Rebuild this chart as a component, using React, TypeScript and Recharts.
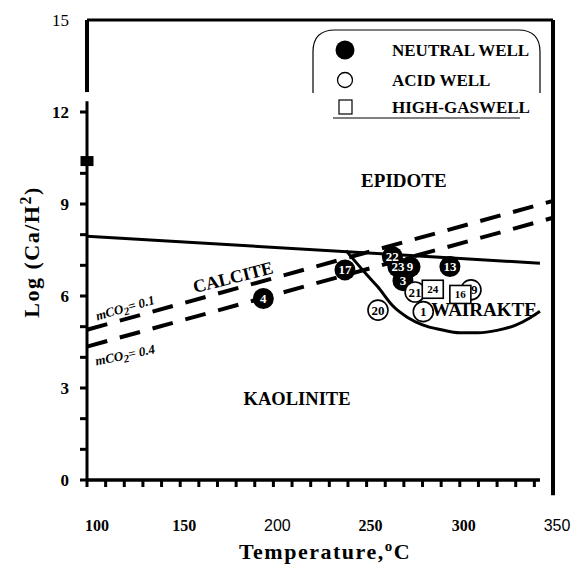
import React from 'react';
import { ComposedChart, XAxis, YAxis, Line, Scatter, ReferenceLine, ReferenceDot } from 'recharts';

// ---------- data ----------
const xTickLabels = [100, 150, 200, 250, 300, 350];
const xTickMarks = [100, 110, 120, 130, 140, 150, 160, 170, 180, 190, 200, 210, 220, 230, 240, 250, 260, 270, 280, 290, 300, 310, 320, 330, 340];
const yTickLabels = [0, 3, 6, 9, 12, 15];
const yTickMarks = [0, 1, 2, 3, 4, 5, 6, 7, 8, 9, 10, 12];

const calciteEpidote = [
  { T: 100, V: 7.95 },
  { T: 343, V: 7.07 },
];
const co2Line01 = [
  { T: 100, V: 4.9 },
  { T: 350, V: 9.1 },
];
const co2Line04 = [
  { T: 100, V: 4.35 },
  { T: 350, V: 8.55 },
];
const wairakiteCurve = [
  { T: 239, V: 7.48 },
  { T: 244, V: 7.12 },
  { T: 250, V: 6.7 },
  { T: 256, V: 6.3 },
  { T: 264, V: 5.68 },
  { T: 272, V: 5.3 },
  { T: 280, V: 5.06 },
  { T: 290, V: 4.9 },
  { T: 300, V: 4.8 },
  { T: 310, V: 4.8 },
  { T: 320, V: 4.88 },
  { T: 330, V: 5.05 },
  { T: 338, V: 5.3 },
  { T: 343, V: 5.5 },
];

const neutralWells = [
  { T: 194.6, V: 5.92, id: '4' },
  { T: 238.4, V: 6.85, id: '17' },
  { T: 263.8, V: 7.28, id: '22' },
  { T: 269.5, V: 6.5, id: '3' },
  { T: 266.8, V: 6.95, id: '23' },
  { T: 273.3, V: 6.95, id: '9' },
  { T: 294.7, V: 6.96, id: '13' },
];
const acidWells = [
  { T: 256.1, V: 5.54, id: '20' },
  { T: 276.0, V: 6.13, id: '21' },
  { T: 280.4, V: 5.49, id: '1' },
  { T: 306.0, V: 6.2, id: '19' },
];
const gasWells = [
  { T: 285.5, V: 6.22, id: '24' },
  { T: 300.3, V: 6.05, id: '16' },
];
const axisMarker = [{ T: 100, V: 10.4 }];

const legendLabels = ['NEUTRAL WELL', 'ACID WELL', 'HIGH-GASWELL'];

// ---------- layout ----------
const W = 574;
const H = 565;
const MARGIN = { top: 20, right: 21, bottom: 25, left: 27 };
const PLOT_BOTTOM = 480;
const SERIF = '"Liberation Serif", "Times New Roman", serif';
const SANS = '"Liberation Sans", Arial, sans-serif';

const xMarkData = xTickMarks.map((T) => ({ T, V: 0 }));
const yMarkData = yTickMarks.map((V) => ({ T: 100, V }));

function XTick(props: any) {
  const { x, payload } = props;
  const v = payload.value;
  const sans = v === 200 || v === 350;
  return (
    <text
      x={x + (v === 100 ? 10 : 4)}
      y={PLOT_BOTTOM + 51}
      textAnchor="middle"
      fontFamily={sans ? SANS : SERIF}
      fontWeight={sans ? 'normal' : 'bold'}
      fontSize={16}
      fill="#000"
    >
      {v}
    </text>
  );
}

function YTick(props: any) {
  const { y, payload } = props;
  const v = payload.value;
  return (
    <text
      x={69}
      y={y}
      dy="0.35em"
      textAnchor="end"
      fontFamily={SERIF}
      fontWeight={v === 15 ? 'normal' : 'bold'}
      fontSize={17}
      fill="#000"
    >
      {v}
    </text>
  );
}

const XMark = (p: any) => <rect x={p.cx - 1.5} y={p.cy} width={3} height={7} fill="#000" />;
const YMark = (p: any) => <rect x={p.cx - 7} y={p.cy - 1.5} width={7} height={3} fill="#000" />;

const FilledCircle = (p: any) => <circle cx={p.cx} cy={p.cy} r={10.5} fill="#000" />;
const OpenCircle = (p: any) => <circle cx={p.cx} cy={p.cy} r={10} fill="#fff" stroke="#000" strokeWidth={1.6} />;
const GasSquare = (p: any) => (
  <g>
    <rect x={p.cx - 10.5} y={p.cy - 9} width={21} height={18} fill="#fff" stroke="#000" strokeWidth={1.6} />
    <text x={p.cx} y={p.cy} dy="0.35em" textAnchor="middle" fontFamily={SERIF} fontWeight="bold" fontSize={11} fill="#000">
      {p.payload.id}
    </text>
  </g>
);
const WhiteLabel = (p: any) => (
  <text x={p.cx} y={p.cy} dy="0.35em" textAnchor="middle" fontFamily={SERIF} fontWeight="bold" fontSize={13} fill="#fff">
    {p.payload.id}
  </text>
);
const BlackLabel = (p: any) => (
  <text x={p.cx} y={p.cy} dy="0.35em" textAnchor="middle" fontFamily={SERIF} fontWeight="bold" fontSize={13} fill="#000">
    {p.payload.id}
  </text>
);
const AxisSquare = (p: any) => <rect x={p.cx - 6.5} y={p.cy - 5} width={13} height={10} fill="#000" />;

function textLabel(content: React.ReactNode, opts: { size: number; rotate?: number; italic?: boolean }) {
  return (props: any) => {
    const vb = props.viewBox || {};
    const cx = (vb.x ?? 0) + (vb.width ?? 0) / 2;
    const cy = (vb.y ?? 0) + (vb.height ?? 0) / 2;
    return (
      <text
        x={cx}
        y={cy}
        dy="0.35em"
        textAnchor="middle"
        fontFamily={SERIF}
        fontWeight="bold"
        fontStyle={opts.italic ? 'italic' : 'normal'}
        fontSize={opts.size}
        fill="#000"
        transform={opts.rotate ? `rotate(${opts.rotate} ${cx} ${cy})` : undefined}
      >
        {content}
      </text>
    );
  };
}

// separate transparent layer holding the axis tick marks
function TickLayer() {
  const tickStyle = { stroke: '#000', strokeWidth: 2.5 };
  return (
    <div style={{ position: 'absolute', left: 0, top: 0, width: W, height: H, pointerEvents: 'none' }}>
      <ComposedChart width={W} height={H} margin={MARGIN}>
        <XAxis
          dataKey="T"
          type="number"
          domain={[100, 350]}
          ticks={xTickMarks}
          interval={0}
          tick={false}
          tickLine={tickStyle}
          tickSize={7}
          axisLine={false}
          height={60}
        />
        <YAxis
          dataKey="V"
          type="number"
          domain={[0, 15]}
          ticks={yTickMarks}
          interval={0}
          tick={false}
          tickLine={tickStyle}
          tickSize={7}
          axisLine={false}
          width={60}
        />
        <Scatter data={xMarkData} shape={XMark} isAnimationActive={false} />
        <Scatter data={yMarkData} shape={YMark} isAnimationActive={false} />
      </ComposedChart>
    </div>
  );
}

export default function App() {
  const noDot = { r: 1, fill: 'none', stroke: 'none' };
  return (
    <div style={{ position: 'absolute', left: 0, top: 0, width: W, height: H, background: '#fff' }}>
      <ComposedChart width={W} height={H} margin={MARGIN}>
        <XAxis
          dataKey="T"
          type="number"
          domain={[100, 350]}
          ticks={xTickLabels}
          interval={0}
          tick={<XTick />}
          tickLine={false}
          axisLine={false}
          height={60}
          label={() => (
            <text x={325} y={559} textAnchor="middle" fontFamily={SERIF} fontWeight="bold" fontSize={22} letterSpacing={1.5} fill="#000">
              Temperature,
              <tspan dy={-8} fontSize={15}>o</tspan>
              <tspan dy={8}>C</tspan>
            </text>
          )}
        />
        <YAxis
          dataKey="V"
          type="number"
          domain={[0, 15]}
          ticks={yTickLabels}
          interval={0}
          tick={<YTick />}
          tickLine={false}
          axisLine={false}
          width={60}
          label={() => (
            <text
              x={31}
              y={252}
              textAnchor="middle"
              fontFamily={SERIF}
              fontWeight="bold"
              fontSize={22}
              letterSpacing={1.5}
              fill="#000"
              transform="rotate(-90 31 252)"
              dy="0.35em"
            >
              Log (Ca/H
              <tspan dy={-8} fontSize={16}>2</tspan>
              <tspan dy={8}>)</tspan>
            </text>
          )}
        />

        {/* frame */}
        <ReferenceLine segment={[{ x: 100, y: 0 }, { x: 100, y: 12.35 }]} stroke="#000" strokeWidth={3} ifOverflow="visible" />
        <ReferenceLine segment={[{ x: 100, y: 12.65 }, { x: 100, y: 15 }]} stroke="#000" strokeWidth={4} ifOverflow="visible" />
        <ReferenceLine segment={[{ x: 100, y: 15 }, { x: 350, y: 15 }]} stroke="#000" strokeWidth={3} ifOverflow="visible" />
        <ReferenceLine segment={[{ x: 350, y: -0.5 }, { x: 350, y: 15 }]} stroke="#000" strokeWidth={4} ifOverflow="visible" />
        <ReferenceLine segment={[{ x: 100, y: 0 }, { x: 343, y: 0 }]} stroke="#000" strokeWidth={3.5} ifOverflow="visible" />

        {/* boundaries */}
        <Line data={calciteEpidote} dataKey="V" type="linear" stroke="#000" strokeWidth={3} dot={false} isAnimationActive={false} />
        <Line data={co2Line01} dataKey="V" type="linear" stroke="#000" strokeWidth={4} strokeDasharray="21 13" dot={false} isAnimationActive={false} />
        <Line data={co2Line04} dataKey="V" type="linear" stroke="#000" strokeWidth={4} strokeDasharray="21 13" dot={false} isAnimationActive={false} />
        <Line data={wairakiteCurve} dataKey="V" type="monotone" stroke="#000" strokeWidth={3} dot={false} isAnimationActive={false} />

        {/* region labels */}
        <ReferenceDot x={270} y={9.78} {...noDot} ifOverflow="visible" label={textLabel('EPIDOTE', { size: 19 })} />
        <ReferenceDot x={178.3} y={6.62} {...noDot} ifOverflow="visible" label={textLabel('CALCITE', { size: 18, rotate: -14 })} />
        <ReferenceDot x={212.7} y={2.67} {...noDot} ifOverflow="visible" label={textLabel('KAOLINITE', { size: 18.5 })} />
        <ReferenceDot x={313} y={5.55} {...noDot} ifOverflow="visible" label={textLabel('WAIRAKTE', { size: 19 })} />
        <ReferenceDot
          x={120.4}
          y={5.62}
          {...noDot}
          ifOverflow="visible"
          label={textLabel(
            <>
              mCO<tspan dy={3} fontSize={11}>2</tspan>
              <tspan dy={-3}>= 0.1</tspan>
            </>,
            { size: 13, rotate: -16, italic: true }
          )}
        />
        <ReferenceDot
          x={120.4}
          y={4.08}
          {...noDot}
          ifOverflow="visible"
          label={textLabel(
            <>
              mCO<tspan dy={3} fontSize={11}>2</tspan>
              <tspan dy={-3}>= 0.4</tspan>
            </>,
            { size: 13, rotate: -12, italic: true }
          )}
        />

        {/* wells */}
        <Scatter data={axisMarker} shape={AxisSquare} isAnimationActive={false} />
        <Scatter data={neutralWells} shape={FilledCircle} isAnimationActive={false} />
        <Scatter data={neutralWells} shape={WhiteLabel} isAnimationActive={false} />
        <Scatter data={acidWells} shape={OpenCircle} isAnimationActive={false} />
        <Scatter data={acidWells} shape={BlackLabel} isAnimationActive={false} />
        <Scatter data={gasWells} shape={GasSquare} isAnimationActive={false} />
      </ComposedChart>

      {/* legend */}
      <svg width={W} height={H} style={{ position: 'absolute', left: 0, top: 0, pointerEvents: 'none' }}>
        <path d="M313,93 V52 Q313,30 335,30 H518 Q540,30 540,52 V93" fill="none" stroke="#000" strokeWidth={1.2} />
        <line x1={333} x2={520} y1={118} y2={118} stroke="#000" strokeWidth={1.2} />
        <circle cx={345} cy={50} r={9.5} fill="#000" />
        <circle cx={345} cy={80} r={7.5} fill="#fff" stroke="#000" strokeWidth={1.3} />
        <rect x={339} y={100} width={13} height={14} fill="#fff" stroke="#000" strokeWidth={1.2} />
        {legendLabels.map((t, i) => (
          <text key={t} x={392} y={[50, 80, 107][i]} dy="0.35em" fontFamily={SERIF} fontWeight="bold" fontSize={17} fill="#000">
            {t}
          </text>
        ))}
      </svg>

      <TickLayer />
    </div>
  );
}
